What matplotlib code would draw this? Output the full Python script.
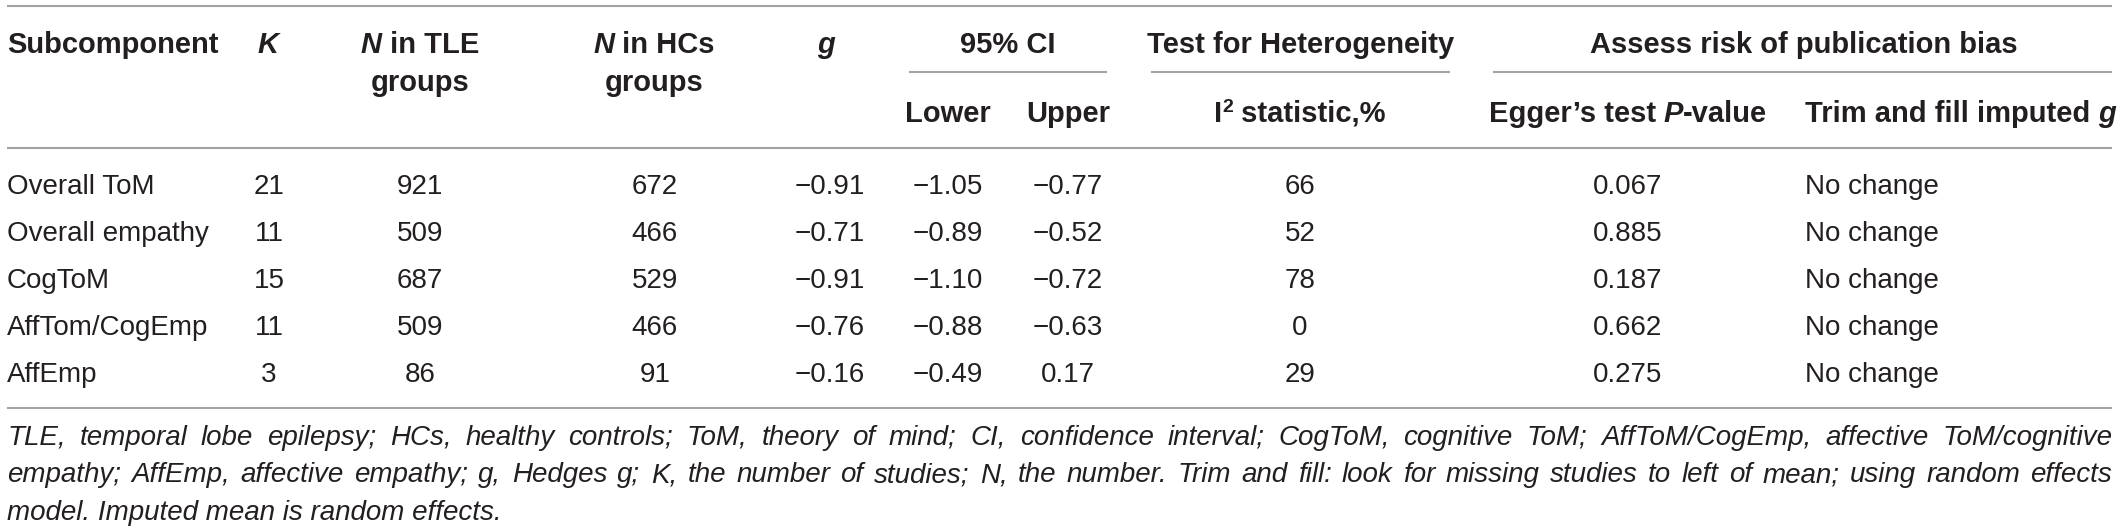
#!/usr/bin/env python3

import matplotlib
matplotlib.use("Agg")
import matplotlib.pyplot as plt

subcomponents = ["Overall ToM", "Overall empathy", "CogToM", "AffTom/CogEmp", "AffEmp"]
k_studies = [21, 11, 15, 11, 3]
n_tle = [921, 509, 687, 509, 86]
n_hc = [672, 466, 529, 466, 91]
hedges_g = [-0.91, -0.71, -0.91, -0.76, -0.16]
ci_lower = [-1.05, -0.89, -1.10, -0.88, -0.49]
ci_upper = [-0.77, -0.52, -0.72, -0.63, 0.17]
i2_stat = [66, 52, 78, 0, 29]
egger_p = [0.067, 0.885, 0.187, 0.662, 0.275]
trim_fill = ["No change", "No change", "No change", "No change", "No change"]

footnote_lines = [
    "TLE, temporal lobe epilepsy; HCs, healthy controls; ToM, theory of mind; CI, confidence interval; "
    "CogToM, cognitive ToM; AffToM/CogEmp, affective ToM/cognitive",
    "empathy; AffEmp, affective empathy; g, Hedges g; K, the number of studies; N, the number. "
    "Trim and fill: look for missing studies to left of mean; using random effects",
    "model. Imputed mean is random effects.",
]

W, H = 2118, 532
TXT = "#231f20"
RULE = "#a3a3a3"

fig = plt.figure(figsize=(W / 100, H / 100), dpi=100)
ax = fig.add_axes([0, 0, 1, 1])
ax.set_xlim(0, W)
ax.set_ylim(H, 0)
ax.axis("off")
renderer = fig.canvas.get_renderer()

BODY = dict(family="Liberation Sans", fontsize=20, color=TXT)
HEAD = dict(family="Liberation Sans", fontsize=21, color=TXT, fontweight="bold")
HEAD_I = dict(HEAD, fontstyle="italic")
FOOT = dict(family="Liberation Sans", fontsize=20, color=TXT, fontstyle="italic")


def text_width(s, style):
    t = ax.text(0, 0, "|" + s + "|", **style)
    w = t.get_window_extent(renderer).width
    t.remove()
    t = ax.text(0, 0, "||", **style)
    w -= t.get_window_extent(renderer).width
    t.remove()
    return w


def draw_runs(x, y, runs, ha="left"):
    widths = [text_width(s, st) for s, st, *_ in runs]
    if ha == "center":
        x -= sum(widths) / 2
    for (s, st, *dy), w in zip(runs, widths):
        ax.text(x, y - (dy[0] if dy else 0), s, va="baseline", ha="left", **st)
        x += w


def rule(x0, x1, y):
    ax.plot([x0, x1], [y, y], color=RULE, lw=1.5, solid_capstyle="butt")


def fmt(v, nd=2):
    return f"{v:.{nd}f}".replace("-", "\u2212")


# rules
rule(7, 2112, 6)
rule(909, 1107, 72)
rule(1151, 1450, 72)
rule(1493, 2112, 72)
rule(7, 2112, 148)
rule(7, 2112, 408)

# header
hb1, hb2, hb3 = 53, 91, 122
draw_runs(7, hb1, [("Subcomponent", HEAD)])
draw_runs(268, hb1, [("K", HEAD_I)], ha="center")
draw_runs(420, hb1, [("N", HEAD_I), (" in TLE", HEAD)], ha="center")
draw_runs(420, hb2, [("groups", HEAD)], ha="center")
draw_runs(654, hb1, [("N", HEAD_I), (" in HCs", HEAD)], ha="center")
draw_runs(654, hb2, [("groups", HEAD)], ha="center")
draw_runs(826, hb1, [("g", HEAD_I)], ha="center")
draw_runs(1008, hb1, [("95% CI", HEAD)], ha="center")
draw_runs(948, hb3, [("Lower", HEAD)], ha="center")
draw_runs(1068, hb3, [("Upper", HEAD)], ha="center")
draw_runs(1301, hb1, [("Test for Heterogeneity", HEAD)], ha="center")
draw_runs(1300, hb3, [("I", HEAD), ("2", dict(HEAD, fontsize=14), 10),
                      (" statistic,%", HEAD)], ha="center")
draw_runs(1804, hb1, [("Assess risk of publication bias", HEAD)], ha="center")
draw_runs(1628, hb3, [("Egger\u2019s test ", HEAD), ("P", HEAD_I), ("-value", HEAD)], ha="center")
draw_runs(1805, hb3, [("Trim and fill imputed ", HEAD), ("g", HEAD_I)])

# body rows
row_base = [194, 241, 288, 335, 382]
for i, yb in enumerate(row_base):
    draw_runs(7, yb, [(subcomponents[i], BODY)])
    draw_runs(269, yb, [(str(k_studies[i]), BODY)], ha="center")
    draw_runs(420, yb, [(str(n_tle[i]), BODY)], ha="center")
    draw_runs(655, yb, [(str(n_hc[i]), BODY)], ha="center")
    draw_runs(830, yb, [(fmt(hedges_g[i]), BODY)], ha="center")
    draw_runs(948, yb, [(fmt(ci_lower[i]), BODY)], ha="center")
    draw_runs(1068, yb, [(fmt(ci_upper[i]), BODY)], ha="center")
    draw_runs(1300, yb, [(str(i2_stat[i]), BODY)], ha="center")
    draw_runs(1628, yb, [(fmt(egger_p[i], 3), BODY)], ha="center")
    draw_runs(1805, yb, [(trim_fill[i], BODY)])

# footnote, justified except last line
foot_base = [445, 482, 520]
left, right = 7, 2112
for j, (line, yb) in enumerate(zip(footnote_lines, foot_base)):
    if j == len(footnote_lines) - 1:
        draw_runs(left, yb, [(line, FOOT)])
        continue
    words = line.split(" ")
    widths = [text_width(w, FOOT) for w in words]
    gap = (right - left - sum(widths)) / (len(words) - 1)
    x = left
    for w, wd in zip(words, widths):
        ax.text(x, yb, w, va="baseline", ha="left", **FOOT)
        x += wd + gap

fig.savefig("out.png", dpi=100)
